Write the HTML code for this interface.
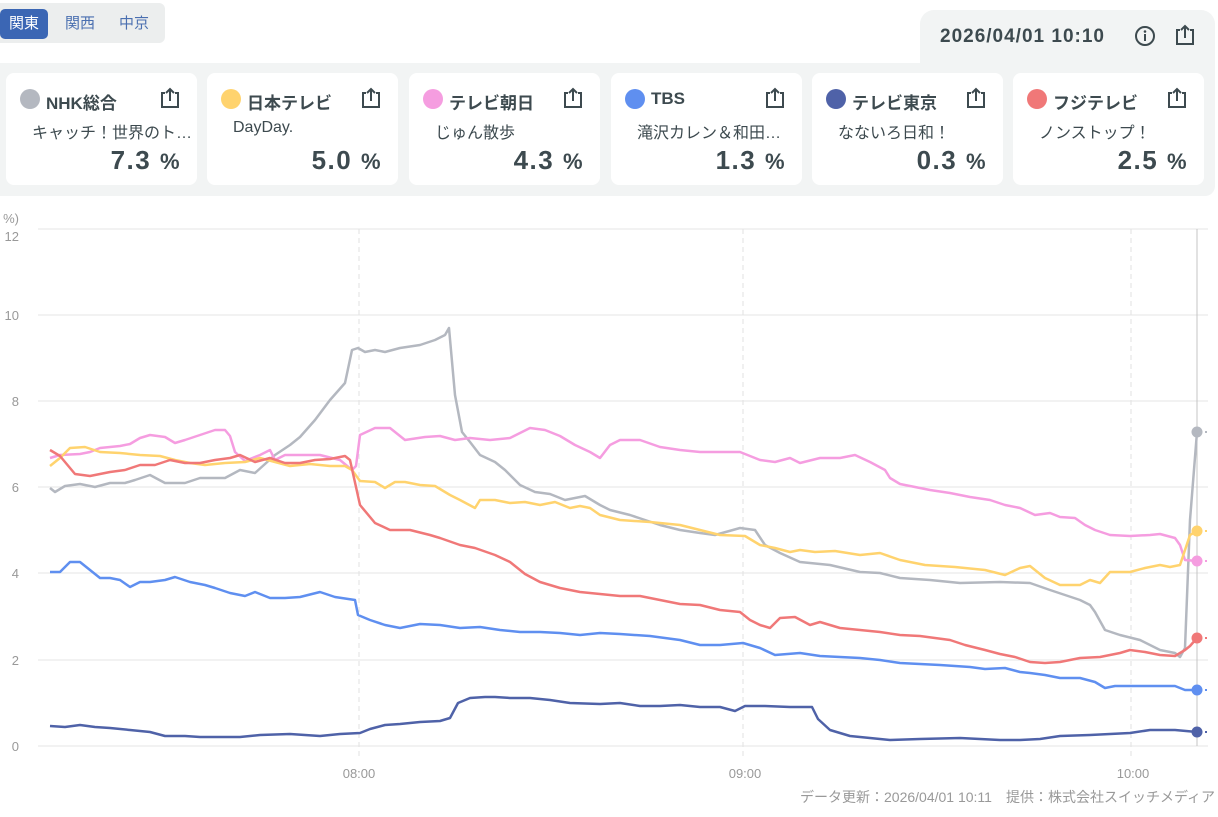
<!DOCTYPE html>
<html><head><meta charset="utf-8"><style>
*{box-sizing:border-box;margin:0;padding:0}
body{width:1218px;height:817px;background:#fff;font-family:"Liberation Sans","Noto Sans CJK JP",sans-serif;position:relative;overflow:hidden;color:#3d4a4f}
.tabs{position:absolute;left:0;top:3px;width:165px;height:40px;background:#eceeee;border-radius:0 6px 6px 0}
.tab{position:absolute;top:6px;height:30px;line-height:30px;font-size:15px;color:#4a6fb0;text-align:center;width:48px}
.tab.on{background:#3b66b4;color:#fff;border-radius:5px;left:0}
.panel{position:absolute;left:0;top:63px;width:1215px;height:133px;background:#f2f4f4;border-radius:0 0 10px 0}
.tr{position:absolute;left:920px;top:10px;width:295px;height:60px;background:#f2f4f4;border-radius:14px 14px 0 0}
.dt{position:absolute;left:940px;top:26px;font-size:19px;font-weight:bold;color:#3d4a4f;letter-spacing:1px}
.card{position:absolute;top:73px;width:191px;height:112px;background:#fff;border-radius:8px}
.card .dot{position:absolute;left:14px;top:16px;width:20px;height:20px;border-radius:50%}
.card .nm{position:absolute;left:40px;top:16px;font-size:17px;font-weight:bold;color:#3d4a4f}
.card .pg{position:absolute;left:26px;top:46px;font-size:16px;color:#3d4a4f;white-space:nowrap}
.card .v{position:absolute;right:16px;top:72px;font-size:26px;font-weight:bold;color:#3d4a4f;letter-spacing:1.5px}
.card .v small{font-size:22px}
.card svg{position:absolute;right:16px;top:14px}
</style></head><body>
<div class="tabs"><div class="tab on">関東</div><div class="tab" style="left:56px">関西</div><div class="tab" style="left:110px">中京</div></div>
<div class="tr"></div>
<div class="panel"></div>
<div class="dt">2026/04/01 10:10</div>
<svg style="position:absolute;left:1134px;top:25px" width="22" height="22"><circle cx="11" cy="11" r="9" fill="none" stroke="#3d4a4f" stroke-width="2"/><rect x="10" y="9" width="2" height="7" fill="#3d4a4f"/><circle cx="11" cy="6.5" r="1.3" fill="#3d4a4f"/></svg>
<svg style="position:absolute;left:1174px;top:24px" width="22" height="22"><path d="M6 6H3v14h16V6h-3M11 14V2M7 6l4-4 4 4" fill="none" stroke="#3d4a4f" stroke-width="2"/></svg>

<div class="card" style="left:6px"><div class="dot" style="background:#b4b8c0"></div><div class="nm">NHK総合</div><svg width="22" height="22"><path d="M6 6H3v14h16V6h-3M11 14V2M7 6l4-4 4 4" fill="none" stroke="#3d4a4f" stroke-width="2"/></svg><div class="pg">キャッチ！世界のト…</div><div class="v">7.3 <small>%</small></div></div>
<div class="card" style="left:207px"><div class="dot" style="background:#ffd36e"></div><div class="nm">日本テレビ</div><svg width="22" height="22"><path d="M6 6H3v14h16V6h-3M11 14V2M7 6l4-4 4 4" fill="none" stroke="#3d4a4f" stroke-width="2"/></svg><div class="pg">DayDay.</div><div class="v">5.0 <small>%</small></div></div>
<div class="card" style="left:409px"><div class="dot" style="background:#f59de0"></div><div class="nm">テレビ朝日</div><svg width="22" height="22"><path d="M6 6H3v14h16V6h-3M11 14V2M7 6l4-4 4 4" fill="none" stroke="#3d4a4f" stroke-width="2"/></svg><div class="pg">じゅん散歩</div><div class="v">4.3 <small>%</small></div></div>
<div class="card" style="left:611px"><div class="dot" style="background:#5f8ff0"></div><div class="nm">TBS</div><svg width="22" height="22"><path d="M6 6H3v14h16V6h-3M11 14V2M7 6l4-4 4 4" fill="none" stroke="#3d4a4f" stroke-width="2"/></svg><div class="pg">滝沢カレン＆和田…</div><div class="v">1.3 <small>%</small></div></div>
<div class="card" style="left:812px"><div class="dot" style="background:#4f62a8"></div><div class="nm">テレビ東京</div><svg width="22" height="22"><path d="M6 6H3v14h16V6h-3M11 14V2M7 6l4-4 4 4" fill="none" stroke="#3d4a4f" stroke-width="2"/></svg><div class="pg">なないろ日和！</div><div class="v">0.3 <small>%</small></div></div>
<div class="card" style="left:1013px"><div class="dot" style="background:#f07878"></div><div class="nm">フジテレビ</div><svg width="22" height="22"><path d="M6 6H3v14h16V6h-3M11 14V2M7 6l4-4 4 4" fill="none" stroke="#3d4a4f" stroke-width="2"/></svg><div class="pg">ノンストップ！</div><div class="v">2.5 <small>%</small></div></div>

<svg style="position:absolute;left:0;top:0" width="1218" height="817" font-family="Liberation Sans, Noto Sans CJK JP, sans-serif">
<g stroke="#e6e6e6" stroke-width="1">
<line x1="38" x2="1208" y1="229" y2="229"/><line x1="38" x2="1208" y1="315" y2="315"/><line x1="38" x2="1208" y1="401" y2="401"/><line x1="38" x2="1208" y1="487" y2="487"/><line x1="38" x2="1208" y1="573" y2="573"/><line x1="38" x2="1208" y1="660" y2="660"/><line x1="38" x2="1208" y1="746" y2="746"/>
</g>
<g stroke="#e2e2e2" stroke-dasharray="5,4"><line x1="359" x2="359" y1="229" y2="757"/><line x1="743" x2="743" y1="229" y2="757"/><line x1="1131" x2="1131" y1="229" y2="757"/></g>
<line x1="1197" x2="1197" y1="229" y2="746" stroke="#c4c4c4"/>
<g font-size="13" fill="#999" text-anchor="end">
<text x="19" y="223">%)</text><text x="19" y="241">12</text><text x="19" y="320">10</text><text x="19" y="406">8</text><text x="19" y="492">6</text><text x="19" y="578">4</text><text x="19" y="665">2</text><text x="19" y="751">0</text>
</g>
<g font-size="13" fill="#999" text-anchor="middle"><text x="359" y="778">08:00</text><text x="745" y="778">09:00</text><text x="1133" y="778">10:00</text></g>
<text x="1215" y="802" font-size="14" fill="#999" text-anchor="end">データ更新：2026/04/01 10:11　提供：株式会社スイッチメディア</text>
<g fill="none" stroke-width="2.5" stroke-linejoin="round">
<polyline stroke="#b4b8c0" points="50,488 55,492 65,486 80,484 95,487 110,483 125,483 135,480 150,475 165,483 185,483 200,478 225,478 240,470 255,473 275,455 290,445 300,437 315,420 330,400 345,383 352,350 358,348 365,352 375,350 385,352 400,348 420,345 435,340 445,335 449,328 455,395 462,432 470,442 480,455 495,462 505,470 520,485 535,492 550,494 565,500 585,496 600,505 610,510 630,515 645,520 660,525 680,530 700,533 715,535 740,528 755,530 765,545 780,553 800,562 830,565 860,572 880,573 900,578 930,580 960,583 1000,582 1030,583 1050,590 1065,595 1080,600 1090,605 1095,612 1105,630 1120,635 1140,640 1160,650 1175,653 1180,657 1185,648 1190,520 1197,432"/>
<polyline stroke="#f59de0" points="50,458 60,455 80,454 90,452 100,448 120,446 130,444 140,438 150,435 165,437 175,443 185,440 200,435 215,430 225,430 230,436 235,452 245,461 260,455 270,450 275,460 285,455 300,455 320,455 340,460 352,470 356,466 360,435 375,428 390,428 405,440 425,437 440,436 455,440 470,438 490,440 510,438 530,428 545,430 560,436 575,445 590,452 600,458 610,445 620,440 640,440 660,447 680,450 700,452 740,452 760,460 775,462 790,458 800,463 820,458 840,458 855,455 870,462 885,470 890,478 900,484 915,487 930,490 950,493 970,497 990,500 1005,505 1020,508 1035,515 1050,513 1060,517 1075,518 1085,525 1095,530 1110,535 1130,536 1150,535 1160,534 1175,538 1180,545 1185,560 1197,561"/>
<polyline stroke="#ffd36e" points="50,466 60,458 70,448 85,447 100,452 120,453 140,455 160,456 175,460 190,463 205,465 225,463 245,462 260,458 275,462 290,466 310,464 330,466 345,466 352,470 360,481 375,482 385,488 395,482 405,482 420,485 435,486 450,495 460,500 475,508 480,500 495,500 510,503 525,502 540,505 555,502 570,508 580,506 590,508 600,515 620,520 650,522 680,525 700,530 720,535 745,536 760,545 775,548 790,552 800,550 815,552 835,551 860,555 880,553 900,560 925,565 955,567 985,570 1005,575 1020,568 1030,566 1045,578 1060,585 1080,585 1090,580 1100,583 1110,572 1130,572 1145,568 1160,565 1170,567 1180,565 1185,550 1190,535 1197,531"/>
<polyline stroke="#f07878" points="50,450 60,456 75,474 90,476 110,472 125,470 140,465 155,465 170,460 185,463 200,463 215,460 230,458 240,455 255,462 270,458 285,463 300,463 315,460 330,459 345,456 350,460 360,505 375,523 390,530 410,530 430,535 440,538 460,545 475,548 495,555 510,562 525,574 540,582 560,588 580,592 600,594 620,596 640,596 660,600 680,604 700,605 720,610 740,612 750,620 760,625 770,628 780,618 795,617 810,625 820,622 830,625 840,628 860,630 880,632 900,635 920,636 950,640 965,645 985,650 1000,654 1015,657 1030,662 1045,663 1060,662 1080,658 1100,657 1120,653 1130,650 1145,652 1160,655 1175,656 1185,650 1190,646 1197,638"/>
<polyline stroke="#5f8ff0" points="50,572 60,572 70,562 80,562 90,570 100,578 110,578 120,580 130,587 140,582 150,582 165,580 175,577 190,582 205,585 215,588 230,593 245,596 255,592 270,598 285,598 300,597 320,592 335,597 355,600 358,615 370,620 385,625 400,628 420,624 440,625 460,628 480,627 500,630 520,632 540,632 560,633 580,635 600,633 620,634 650,636 680,640 700,645 720,645 743,643 760,648 775,655 800,653 820,656 860,658 880,660 900,663 920,664 940,665 970,667 985,669 1005,668 1020,672 1030,673 1045,675 1060,678 1080,678 1095,682 1105,688 1115,686 1130,686 1160,686 1175,686 1185,690 1197,690"/>
<polyline stroke="#4f62a8" points="50,726 65,727 80,725 95,727 110,728 130,730 150,732 165,736 185,736 200,737 240,737 260,735 290,734 320,736 340,734 360,733 370,729 385,725 400,724 420,722 440,721 450,718 458,703 470,698 485,697 495,697 510,698 530,698 550,700 570,703 600,704 620,703 640,706 660,706 680,705 700,707 720,707 735,711 745,706 765,706 790,707 812,707 818,719 830,730 850,736 870,738 890,740 920,739 960,738 1000,740 1020,740 1040,739 1060,736 1090,735 1110,734 1130,733 1150,730 1175,730 1197,732"/>
</g>
<g stroke-width="2" stroke-dasharray="2,3">
<line x1="1200" x2="1207" y1="432" y2="432" stroke="#b4b8c0"/><line x1="1200" x2="1207" y1="531" y2="531" stroke="#ffd36e"/><line x1="1200" x2="1207" y1="561" y2="561" stroke="#f59de0"/><line x1="1200" x2="1207" y1="638" y2="638" stroke="#f07878"/><line x1="1200" x2="1207" y1="690" y2="690" stroke="#5f8ff0"/><line x1="1200" x2="1207" y1="732" y2="732" stroke="#4f62a8"/>
</g>
<circle cx="1197" cy="432" r="5.5" fill="#b4b8c0"/><circle cx="1197" cy="531" r="5.5" fill="#ffd36e"/><circle cx="1197" cy="561" r="5.5" fill="#f59de0"/><circle cx="1197" cy="638" r="5.5" fill="#f07878"/><circle cx="1197" cy="690" r="5.5" fill="#5f8ff0"/><circle cx="1197" cy="732" r="5.5" fill="#4f62a8"/>
</svg>
</body></html>
